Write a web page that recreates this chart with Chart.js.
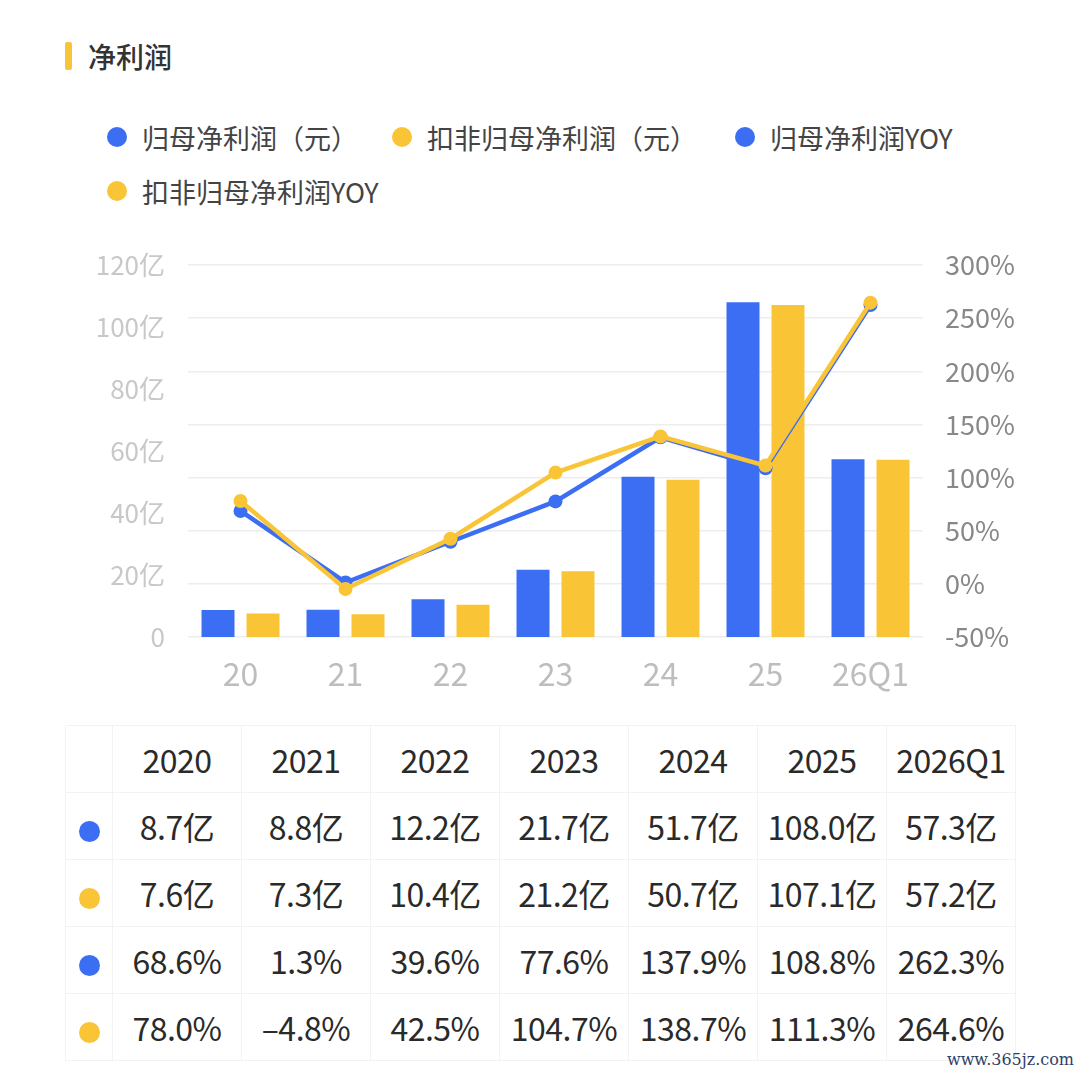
<!DOCTYPE html>
<html>
<head>
<meta charset="utf-8">
<script src="https://cdn.jsdelivr.net/npm/chart.js@4.4.1/dist/chart.umd.min.js"></script>
<style>
  body { margin: 0; background: #fff; font-family: "Noto Sans CJK SC", "Noto Sans", sans-serif; }
  #page { position: relative; width: 1080px; height: 1080px; overflow: hidden; background: #fff; }
  .title-bar { position: absolute; left: 65px; top: 42px; width: 7px; height: 28px; background: #f8c53a; border-radius: 2px; }
  .title { position: absolute; left: 88px; top: 36px; font-size: 28px; line-height: 40px; color: #333; font-weight: 500; }
  .legend-item { position: absolute; display: flex; align-items: center; font-size: 27px; color: #444; white-space: nowrap; }
  .legend-item .dot { width: 20px; height: 20px; border-radius: 50%; margin-right: 15px; }
  #chartBox { position: absolute; left: 0; top: 240px; width: 1080px; height: 470px; }
  #dataTable { position: absolute; left: 65px; top: 725px; border-collapse: collapse; }
  #dataTable td { border: 1px solid #f3f3f3; text-align: center; font-size: 32px; color: #2a2a2a; padding: 0; height: 66px; }
  #dataTable td.dot-cell { width: 46px; }
  #dataTable td.val { width: 128px; letter-spacing: -0.5px; }
  #dataTable .dot { display: inline-block; width: 21px; height: 21px; border-radius: 50%; vertical-align: middle; }
  .watermark { position: absolute; right: 6px; top: 1050px; font-size: 16px; color: #2f3f66; font-family: "DejaVu Serif", serif; }
</style>
</head>
<body>
<div id="page">
  <div class="title-bar"></div>
  <div class="title">净利润</div>
  <div id="legend"></div>
  <div id="chartBox"><canvas id="mainChart" width="1080" height="470"></canvas></div>
  <table id="dataTable"></table>
  <div class="watermark">www.365jz.com</div>
</div>
<script>
// chart data
const categories = ["20", "21", "22", "23", "24", "25", "26Q1"];
const years = ["2020", "2021", "2022", "2023", "2024", "2025", "2026Q1"];
const netProfit = [8.7, 8.8, 12.2, 21.7, 51.7, 108.0, 57.3];        // 亿
const deductedProfit = [7.6, 7.3, 10.4, 21.2, 50.7, 107.1, 57.2];   // 亿
const netProfitYoy = [68.6, 1.3, 39.6, 77.6, 137.9, 108.8, 262.3];  // %
const deductedYoy = [78.0, -4.8, 42.5, 104.7, 138.7, 111.3, 264.6]; // %
const seriesNames = ["归母净利润（元）", "扣非归母净利润（元）", "归母净利润YOY", "扣非归母净利润YOY"];

const BLUE = "#3c6ef4";
const YELLOW = "#f9c536";
const FONT = "'Noto Sans CJK SC', 'Noto Sans', sans-serif";
const seriesColors = [BLUE, YELLOW, BLUE, YELLOW];

// legend (html, left aligned, wraps like the original)
const legendPos = [[107, 137], [392, 137], [735, 137], [107, 191]];
const legendBox = document.getElementById("legend");
seriesNames.forEach(function (name, i) {
  const item = document.createElement("div");
  item.className = "legend-item";
  item.style.left = legendPos[i][0] + "px";
  item.style.top = (legendPos[i][1] - 20) + "px";
  item.style.height = "40px";
  item.innerHTML = '<span class="dot" style="background:' + seriesColors[i] + '"></span>' + name;
  legendBox.appendChild(item);
});

// table under the chart
function fmtYi(v) { return v.toFixed(1) + "亿"; }
function fmtPct(v) { return (v < 0 ? "–" + Math.abs(v).toFixed(1) : v.toFixed(1)) + "%"; }
const tableRows = [
  [BLUE, netProfit.map(fmtYi)],
  [YELLOW, deductedProfit.map(fmtYi)],
  [BLUE, netProfitYoy.map(fmtPct)],
  [YELLOW, deductedYoy.map(fmtPct)],
];
let html = '<tr><td class="dot-cell"></td>' + years.map(function (y) { return '<td class="val">' + y + '</td>'; }).join("") + '</tr>';
tableRows.forEach(function (row) {
  html += '<tr><td class="dot-cell"><span class="dot" style="background:' + row[0] + '"></span></td>' +
    row[1].map(function (t) { return '<td class="val">' + t + '</td>'; }).join("") + '</tr>';
});
document.getElementById("dataTable").innerHTML = html;

// fixed axis sizes so the plot area sits where the original's does
function fixWidth(w) {
  return function (scale) {
    scale.width = w;
    scale.paddingTop = 0;
    scale.paddingBottom = 0;
  };
}

// main chart
const config = {
  type: "bar",
  data: {
    labels: categories,
    datasets: [
      {
        type: "line", label: seriesNames[3], data: deductedYoy, yAxisID: "y1", order: 0,
        borderColor: YELLOW, backgroundColor: YELLOW, borderWidth: 4.5,
        pointRadius: 7, pointBackgroundColor: YELLOW, pointBorderWidth: 0, tension: 0,
      },
      {
        type: "line", label: seriesNames[2], data: netProfitYoy, yAxisID: "y1", order: 1,
        borderColor: BLUE, backgroundColor: BLUE, borderWidth: 4.5,
        pointRadius: 7, pointBackgroundColor: BLUE, pointBorderWidth: 0, tension: 0,
      },
      {
        label: seriesNames[0], data: netProfit, yAxisID: "y", order: 2,
        backgroundColor: BLUE, categoryPercentage: 0.857, barPercentage: 0.733,
      },
      {
        label: seriesNames[1], data: deductedProfit, yAxisID: "y", order: 3,
        backgroundColor: YELLOW, categoryPercentage: 0.857, barPercentage: 0.733,
      },
    ],
  },
  options: {
    responsive: false,
    animation: false,
    devicePixelRatio: 1,
    layout: { padding: { top: 25, left: 0, right: 0, bottom: 0 } },
    plugins: {
      legend: { display: false },
      tooltip: { enabled: false },
    },
    scales: {
      x: {
        grid: { display: false, drawTicks: false },
        border: { display: false },
        ticks: { color: "#bdbdbd", font: { size: 32, family: FONT }, padding: 18 },
        afterFit: function (scale) { scale.height = 73; },
      },
      y: {
        position: "left",
        min: 0, max: 120,
        grid: { display: false, drawTicks: false },
        border: { display: false },
        ticks: {
          stepSize: 20, color: "#c8c8c8", font: { size: 26, family: FONT }, padding: 23,
          callback: function (v) { return v === 0 ? "0" : v + "亿"; },
        },
        afterFit: fixWidth(188),
      },
      y1: {
        position: "right",
        min: -50, max: 300,
        grid: { color: "#ededed", lineWidth: 1.5, drawTicks: false },
        border: { display: false },
        ticks: {
          stepSize: 50, color: "#888888", font: { size: 27, family: FONT }, padding: 22,
          callback: function (v) { return v + "%"; },
        },
        afterFit: fixWidth(157),
      },
    },
  },
};

new Chart(document.getElementById("mainChart"), config);
</script>
</body>
</html>
